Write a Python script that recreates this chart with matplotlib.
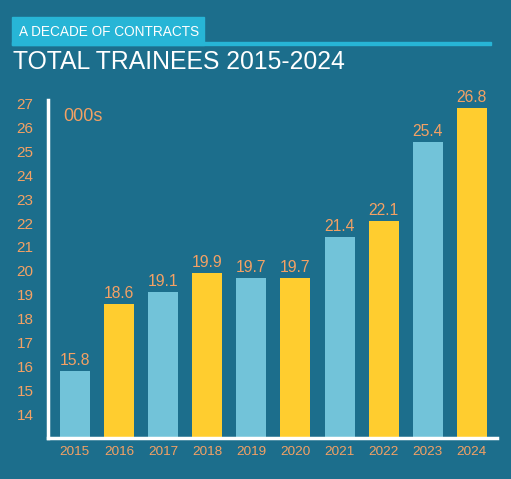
import matplotlib.pyplot as plt
from matplotlib.patches import Rectangle

years = ['2015', '2016', '2017', '2018', '2019', '2020', '2021', '2022', '2023', '2024']
trainees = [15.8, 18.6, 19.1, 19.9, 19.7, 19.7, 21.4, 22.1, 25.4, 26.8]
yticks = list(range(14, 28))

bg = '#1c6e8c'
light = '#72c3d9'
yellow = '#ffcd2f'
orange = '#f4a164'
header = '#27b5d6'

plt.rcParams['font.family'] = ['Liberation Sans', 'DejaVu Sans']

fig = plt.figure(figsize=(5.11, 4.79), dpi=100, facecolor=bg)
ax = fig.add_axes([48 / 511, 1 - 438 / 479, 449 / 511, 338 / 479])
ax.set_facecolor(bg)

colors = [light if i % 2 == 0 else yellow for i in range(len(years))]
x = range(len(years))
ax.bar(x, trainees, width=0.68, color=colors, bottom=0, zorder=2)
for i, v in enumerate(trainees):
    ax.text(i, v + 0.12, f'{v}', ha='center', va='bottom', color=orange, fontsize=11.3)

ax.set_ylim(13, 27.15)
ax.set_xlim(-0.61, 9.57)
ax.set_yticks(yticks)
ax.set_xticks(list(x))
ax.set_xticklabels(years)
ax.tick_params(axis='y', length=0, pad=10.5, colors=orange, labelsize=11)
ax.tick_params(axis='x', length=0, pad=6, colors=orange, labelsize=9.7)

for s in ['top', 'right']:
    ax.spines[s].set_visible(False)
for s in ['left', 'bottom']:
    ax.spines[s].set_color('white')
    ax.spines[s].set_linewidth(2.5)

ax.text(0.034, 0.95, '000s', transform=ax.transAxes, color=orange, fontsize=13, va='center')

# header strip
fig.patches.append(Rectangle((12 / 511, 1 - 45 / 479), 192 / 511, 28 / 479,
                             transform=fig.transFigure, color=header, zorder=0))
fig.patches.append(Rectangle((12 / 511, 1 - 45 / 479), 479 / 511, 3 / 479,
                             transform=fig.transFigure, color=header, zorder=0))
fig.text(19 / 511, 1 - 32 / 479, 'A DECADE OF CONTRACTS', color='white', fontsize=9.8,
         va='center')
fig.text(13 / 511, 1 - 62 / 479, 'TOTAL TRAINEES 2015-2024', color='white', fontsize=17.8,
         va='center')

fig.savefig('out.png', dpi=100, facecolor=bg)
